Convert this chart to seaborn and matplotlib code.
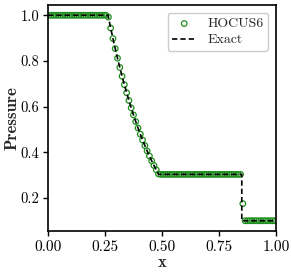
import numpy as np
import pandas as pd
import matplotlib
matplotlib.use("Agg")
import matplotlib.pyplot as plt
import seaborn as sns

# ---- data ----
n_cells = 100
x_cells = (np.arange(n_cells) + 0.5) / n_cells

p_left_plateau = [1.0] * 26
p_rarefaction = [0.99191, 0.94399, 0.89802, 0.85403, 0.81189, 0.77156, 0.73290,
                 0.69597, 0.66064, 0.62681, 0.59453, 0.56368, 0.53421, 0.50603,
                 0.47918, 0.45356, 0.42909, 0.40579, 0.38358, 0.36238, 0.34226,
                 0.32307, 0.30482]
p_star_plateau = [0.3031] * 36
p_shock_cell = [0.175]
p_right_plateau = [0.1] * 14
p_hocus = p_left_plateau + p_rarefaction + p_star_plateau + p_shock_cell + p_right_plateau

x_head, x_tail, x_shock = 0.2634, 0.4859, 0.8504
x_exact = [0.0, x_head] + list(x_cells[26:49]) + [x_tail, x_shock, x_shock, 1.0]
p_exact = [1.0, 1.0] + p_rarefaction + [0.3031, 0.3031, 0.1, 0.1]

xticks = [0.00, 0.25, 0.50, 0.75, 1.00]
yticks = [0.2, 0.4, 0.6, 0.8, 1.0]

df_num = pd.DataFrame({"x": x_cells, "p": p_hocus})
df_ex = pd.DataFrame({"x": x_exact, "p": p_exact})

sns.set_theme(style="ticks")
plt.rcParams.update({
    "font.family": ["serif"],
    "font.serif": ["cmr10", "DejaVu Serif"],
    "mathtext.fontset": "cm",
    "axes.formatter.use_mathtext": True,
    "axes.edgecolor": "black",
    "axes.linewidth": 1.2,
    "xtick.color": "black",
    "ytick.color": "black",
    "xtick.major.width": 1.0,
    "ytick.major.width": 1.0,
    "xtick.major.size": 3.5,
    "ytick.major.size": 3.5,
    "xtick.major.pad": 3.0,
    "ytick.major.pad": 2.8,
})

fig = plt.figure(figsize=(2.91, 2.77), dpi=100)
ax = fig.add_axes([0.165, 0.166, 0.783, 0.816])

sns.scatterplot(data=df_num, x="x", y="p", ax=ax, marker="o", s=16,
                facecolors="none", edgecolor="#1f8f1f", linewidth=0.9,
                label="HOCUS6", zorder=2)
sns.lineplot(data=df_ex, x="x", y="p", ax=ax, estimator=None, sort=False,
             color="black", linestyle=(0, (3.2, 1.8)), linewidth=1.2,
             label="Exact", zorder=3)

ax.set_xlim(0, 1)
ax.set_ylim(0.055, 1.045)
ax.set_xticks(xticks)
ax.set_xticklabels([f"{v:.2f}" for v in xticks], fontsize=11)
ax.set_yticks(yticks)
ax.set_yticklabels([f"{v:.1f}" for v in yticks], fontsize=10.5)
ax.set_xlabel("x", fontsize=12, fontfamily="cmb10", labelpad=1)
ax.set_ylabel("Pressure", fontsize=12, fontfamily="cmb10", labelpad=1)

leg = ax.legend(loc="upper right", fontsize=10, frameon=True, fancybox=True,
                edgecolor="0.8", framealpha=1.0, handlelength=1.7,
                labelspacing=0.25, borderpad=0.35, borderaxespad=0.55,
                handletextpad=0.8)
for t in leg.get_texts():
    t.set_fontfamily("cmr10")

fig.savefig("out.png", dpi=100)
